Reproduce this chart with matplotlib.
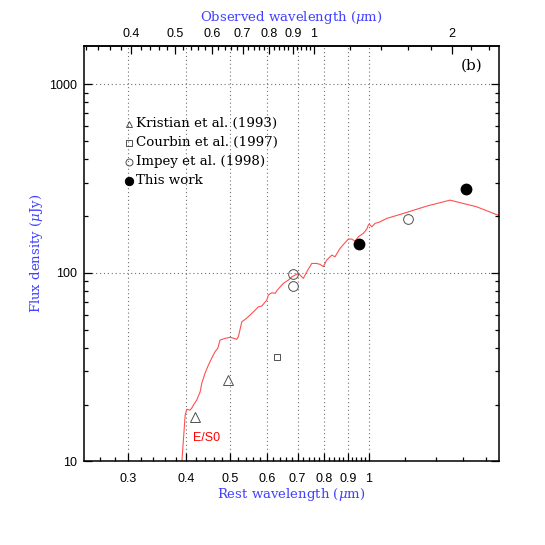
import numpy as np
import matplotlib
matplotlib.use('Agg')
import matplotlib.pyplot as plt
from matplotlib.ticker import FixedLocator, FixedFormatter, NullFormatter

# redshift factor between rest and observed wavelength
one_plus_z = 1.317

# E/S0 template, rest wavelength (um) and flux (uJy)
sed_wave = [0.390, 0.3923, 0.3988, 0.4021, 0.4088, 0.4123, 0.4157, 0.4228, 0.4299, 0.4335,
            0.4406, 0.4480, 0.4557, 0.4633, 0.4696, 0.4750, 0.4871, 0.4995, 0.5164, 0.5206,
            0.5296, 0.5385, 0.5521, 0.5661, 0.5754, 0.5853, 0.6002, 0.6049, 0.6153, 0.6256,
            0.6328, 0.6521, 0.6687, 0.6802, 0.6916, 0.7031, 0.7091, 0.7207, 0.7332, 0.7518,
            0.7708, 0.7836, 0.7968, 0.8103, 0.8310, 0.8446, 0.8661, 0.8806, 0.9031, 0.9184,
            0.9337, 0.9493, 0.9734, 0.9901, 0.9980, 1.0030, 1.0151, 1.0320, 1.0583, 1.0943,
            1.1890, 1.3365, 1.5022, 1.7171, 1.8978, 1.95]
sed_flux = [8.0, 9.96, 17.6, 18.9, 18.7, 19.2, 19.9, 21.2, 23.4, 26.0,
            29.4, 32.4, 35.3, 38.2, 39.8, 44.0, 44.9, 45.5, 44.4, 45.8,
            55.0, 56.6, 59.7, 63.4, 66.0, 66.6, 71.7, 76.2, 78.4, 77.8,
            81.0, 87.9, 91.5, 95.2, 97.2, 99.3, 97.2, 93.4, 101.2, 112.1,
            112.1, 110.8, 107.9, 116.8, 124.1, 121.6, 134.7, 141.1, 150.9, 150.9,
            147.2, 155.2, 161.8, 170.4, 179.0, 181.2, 175.3, 182.7, 186.3, 194.2,
            206.4, 225.7, 242.8, 223.8, 203.4, 199.0]

kristian_wave = [0.419, 0.495]
kristian_flux = [17.3, 27.0]
courbin_wave = [0.633]
courbin_flux = [35.7]
impey_wave = [0.686, 0.686, 1.216]
impey_flux = [98.1, 85.0, 191.9]
this_wave = [0.954, 1.627]
this_flux = [141.5, 276.7]

rest_major = [0.3, 0.4, 0.5, 0.6, 0.7, 0.8, 0.9, 1]
rest_labels = ['0.3', '0.4', '0.5', '0.6', '0.7', '0.8', '0.9', '1']
obs_major = [0.4, 0.5, 0.6, 0.7, 0.8, 0.9, 1, 2]
obs_labels = ['0.4', '0.5', '0.6', '0.7', '0.8', '0.9', '1', '2']
flux_major = [10, 100, 1000]
flux_labels = ['10', '100', '1000']

blue = '#4040ff'
tick_font = 'Liberation Sans'
label_font = 'DejaVu Serif'
plt.rcParams['mathtext.fontset'] = 'dejavuserif'

fig = plt.figure(figsize=(5.45, 5.45), dpi=100)
ax = fig.add_axes([84 / 545, 83.6 / 545, 415 / 545, 415.7 / 545])
ax.set_xscale('log')
ax.set_yscale('log')
ax.set_xlim(0.2403, 1.92)
ax.set_ylim(10, 1600)

ax.plot(sed_wave, sed_flux, color='#ff5050', lw=0.8, zorder=2)
ax.text(0.445, 13.3, 'E/S0', color='red', fontsize=9, family=tick_font,
        ha='center', va='center')

grey = '#505050'
ax.plot(kristian_wave, kristian_flux, ls='none', marker='^', ms=6.5, mfc='none', mec=grey, mew=0.7)
ax.plot(courbin_wave, courbin_flux, ls='none', marker='s', ms=5, mfc='none', mec=grey, mew=0.7)
ax.plot(impey_wave, impey_flux, ls='none', marker='o', ms=7, mfc='none', mec=grey, mew=0.7)
ax.plot(this_wave, this_flux, ls='none', marker='o', ms=7.5, mfc='black', mec='black')

# hand-made legend
legend_rows = [('^', 'none', 4.5, 'Kristian et al. (1993)'),
               ('s', 'none', 4.0, 'Courbin et al. (1997)'),
               ('o', 'none', 5.0, 'Impey et al. (1998)'),
               ('o', 'black', 6.0, 'This work')]
for i, (mk, fc, ms, txt) in enumerate(legend_rows):
    yy = 0.812 - i * 0.0457
    ax.plot([0.108], [yy], transform=ax.transAxes, marker=mk, ms=ms, mfc=fc,
            mec='black' if fc == 'black' else grey, mew=0.7, ls='none', clip_on=False)
    ax.text(0.125, yy, txt, transform=ax.transAxes, fontsize=9.6, family=label_font,
            va='center', ha='left')

ax.text(0.935, 0.951, '(b)', transform=ax.transAxes, fontsize=11, family=label_font,
        ha='center', va='center')

# ticks
rest_minor = [v for v in np.round(np.arange(0.26, 1.0, 0.02), 2) if v not in rest_major]
rest_minor += [1.2, 1.4, 1.6, 1.8]
ax.xaxis.set_major_locator(FixedLocator(rest_major))
ax.xaxis.set_major_formatter(FixedFormatter(rest_labels))
ax.xaxis.set_minor_locator(FixedLocator(rest_minor))
ax.xaxis.set_minor_formatter(NullFormatter())

flux_minor = [20, 30, 40, 50, 60, 70, 80, 90, 200, 300, 400, 500, 600, 700, 800, 900]
ax.yaxis.set_major_locator(FixedLocator(flux_major))
ax.yaxis.set_major_formatter(FixedFormatter(flux_labels))
ax.yaxis.set_minor_locator(FixedLocator(flux_minor))
ax.yaxis.set_minor_formatter(NullFormatter())

ax.tick_params(which='both', direction='in', top=False, right=True, width=0.9)
ax.tick_params(which='major', length=6)
ax.tick_params(which='minor', length=3.2)
ax.tick_params(axis='x', which='major', pad=8)
ax.tick_params(axis='y', which='major', pad=5)
for lab in ax.get_xticklabels() + ax.get_yticklabels():
    lab.set_family(tick_font)
    lab.set_fontsize(9)

for s in ax.spines.values():
    s.set_linewidth(1.1)

ax.grid(True, which='major', ls=(0, (1, 2.5)), color='#707070', lw=0.8)

sec = ax.secondary_xaxis('top', functions=(lambda x: x * one_plus_z, lambda x: x / one_plus_z))
obs_minor = [v for v in np.round(np.arange(0.32, 1.0, 0.02), 2) if v not in obs_major]
obs_minor += [1.2, 1.4, 1.6, 1.8, 2.2, 2.4]
sec.xaxis.set_major_locator(FixedLocator(obs_major))
sec.xaxis.set_major_formatter(FixedFormatter(obs_labels))
sec.xaxis.set_minor_locator(FixedLocator(obs_minor))
sec.xaxis.set_minor_formatter(NullFormatter())
sec.tick_params(which='both', direction='in', width=0.9)
sec.tick_params(which='major', length=6, pad=4)
sec.tick_params(which='minor', length=3.2)
for lab in sec.get_xticklabels():
    lab.set_family(tick_font)
    lab.set_fontsize(9)
sec.spines['top'].set_linewidth(1.1)

sec.set_xlabel(r'Observed wavelength ($\mu$m)', color=blue, family=label_font,
               fontsize=9.5, labelpad=5)
ax.set_xlabel(r'Rest wavelength ($\mu$m)', color=blue, family=label_font,
              fontsize=9.5, labelpad=1)
ax.set_ylabel(r'Flux density ($\mu$Jy)', color=blue, family=label_font,
              fontsize=9.5, labelpad=3)

fig.savefig('out.png', dpi=100)
